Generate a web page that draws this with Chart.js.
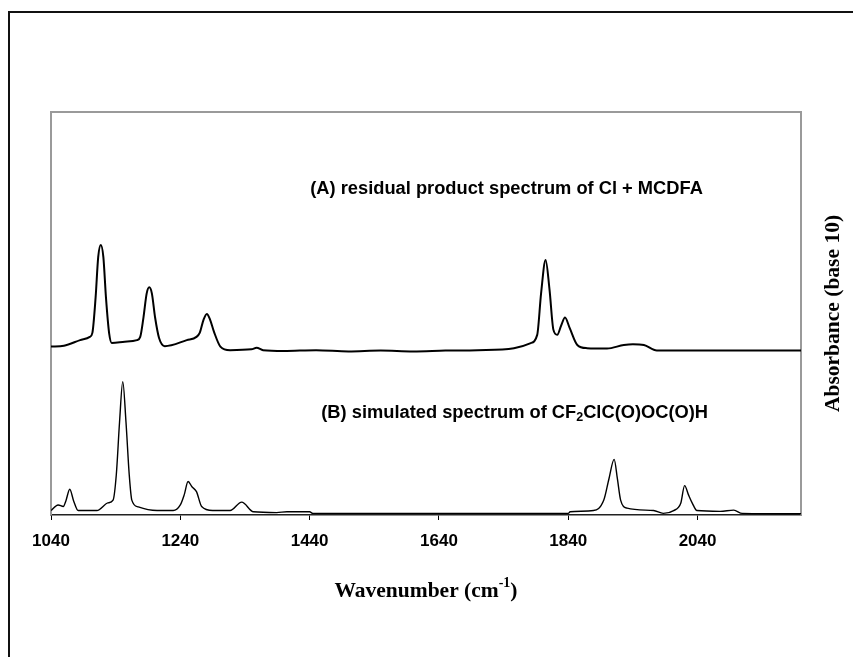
<!DOCTYPE html>
<html>
<head>
<meta charset="utf-8">
<script src="https://cdn.jsdelivr.net/npm/chart.js@4.4.1/dist/chart.umd.min.js"></script>
<style>
  body { margin: 0; background: #fff; }
  #frame { position: absolute; left: 8px; top: 11px; width: 900px; height: 700px;
           border-left: 2px solid #111; border-top: 2px solid #111; }
  #wrap { position: absolute; left: 0; top: 0; width: 853px; height: 657px; }
</style>
</head>
<body>
<div id="frame"></div>
<div id="wrap"><canvas id="chartId" width="853" height="657"></canvas></div>
<script>
// x axis ticks
var tickValues = [1040, 1240, 1440, 1640, 1840, 2040];

// (A) residual product spectrum (offset trace)
var wavenumberA = [1040, 1060, 1085, 1100, 1104, 1109, 1113, 1117, 1121, 1125, 1130, 1134, 1154, 1173,
    1178, 1183, 1188, 1192, 1196, 1201, 1207, 1216, 1250, 1265, 1270, 1276, 1281, 1286, 1292, 1302,
    1317, 1350, 1358, 1368, 1400, 1450, 1500, 1550, 1600, 1650, 1700, 1756, 1781, 1792, 1798, 1805,
    1811, 1817, 1823, 1829, 1835, 1842, 1854, 1869, 1900, 1926, 1940, 1957, 1977, 2100, 2200];
var absorbA = [0.418, 0.420, 0.434, 0.442, 0.452, 0.54, 0.64, 0.670, 0.64, 0.54, 0.45, 0.427, 0.430, 0.434,
    0.442, 0.49, 0.55, 0.565, 0.55, 0.49, 0.44, 0.419, 0.434, 0.442, 0.452, 0.485, 0.499, 0.485, 0.455, 0.418,
    0.409, 0.411, 0.415, 0.409, 0.407, 0.409, 0.406, 0.408, 0.406, 0.408, 0.409, 0.414, 0.426, 0.447, 0.55, 0.633,
    0.56, 0.46, 0.447, 0.47, 0.490, 0.465, 0.422, 0.414, 0.413, 0.422, 0.424, 0.422, 0.408, 0.408, 0.408];

// (B) simulated spectrum
var wavenumberB = [1040, 1051, 1059, 1063, 1069, 1075, 1082, 1111, 1128, 1136, 1141, 1146, 1151, 1156,
    1161, 1165, 1175, 1204, 1229, 1240, 1246, 1252, 1258, 1265, 1273, 1290, 1317, 1335, 1353, 1389,
    1405, 1440, 1445, 1840, 1843, 1879, 1895, 1903, 1911, 1916, 1921, 1931, 1972, 1987, 2003, 2014,
    2020, 2026, 2032, 2039, 2075, 2096, 2109, 2200];
var absorbB = [0.011, 0.025, 0.021, 0.035, 0.064, 0.035, 0.011, 0.011, 0.030, 0.037, 0.10, 0.23, 0.331, 0.23,
    0.10, 0.037, 0.020, 0.011, 0.011, 0.025, 0.05, 0.083, 0.07, 0.058, 0.021, 0.011, 0.011, 0.032, 0.008, 0.006,
    0.008, 0.008, 0.004, 0.004, 0.008, 0.011, 0.037, 0.09, 0.138, 0.09, 0.037, 0.017, 0.011, 0.004, 0.011, 0.029,
    0.073, 0.05, 0.029, 0.011, 0.009, 0.012, 0.004, 0.003];

// text labels inside the plot, placed in data units
var labelA = "(A) residual product spectrum of Cl + MCDFA";
var labelAPos = [1441, 0.809];
var labelBParts = ["(B) simulated spectrum of CF", "2", "ClC(O)OC(O)H"];
var labelBPos = [1458, 0.253];

function toPoints(xs, ys) {
    return xs.map(function(x, i) { return { x: x, y: ys[i] }; });
}

var sansBold = 'bold 18.3px "Liberation Sans", Arial, sans-serif';
var serifBold = 'bold 21.5px "Liberation Serif", "Times New Roman", serif';

var decorations = {
    id: 'decorations',
    beforeDatasetsDraw: function(chart) {
        var ctx = chart.ctx;
        var a = chart.chartArea;
        ctx.save();
        ctx.strokeStyle = '#9a9a9a';
        ctx.lineWidth = 2;
        ctx.beginPath();
        ctx.moveTo(a.left, a.bottom);
        ctx.lineTo(a.left, a.top);
        ctx.lineTo(a.right, a.top);
        ctx.lineTo(a.right, a.bottom);
        ctx.stroke();
        ctx.restore();
    },
    afterDraw: function(chart) {
        var ctx = chart.ctx;
        var a = chart.chartArea;
        var xs = chart.scales.x;
        var ys = chart.scales.y;
        ctx.save();
        ctx.fillStyle = '#000';
        ctx.textBaseline = 'middle';

        // label A
        ctx.font = sansBold;
        ctx.textAlign = 'left';
        ctx.fillText(labelA, xs.getPixelForValue(labelAPos[0]), ys.getPixelForValue(labelAPos[1]));

        // label B with subscript
        var bx = xs.getPixelForValue(labelBPos[0]);
        var by = ys.getPixelForValue(labelBPos[1]);
        ctx.fillText(labelBParts[0], bx, by);
        bx += ctx.measureText(labelBParts[0]).width;
        ctx.font = 'bold 12.5px "Liberation Sans", Arial, sans-serif';
        ctx.fillText(labelBParts[1], bx, by + 5);
        bx += ctx.measureText(labelBParts[1]).width;
        ctx.font = sansBold;
        ctx.fillText(labelBParts[2], bx, by);

        // x axis title with superscript
        var supFont = 'bold 14px "Liberation Serif", "Times New Roman", serif';
        ctx.font = serifBold;
        var p1 = "Wavenumber (cm", p3 = ")";
        var w1 = ctx.measureText(p1).width, w3 = ctx.measureText(p3).width;
        ctx.font = supFont;
        var w2 = ctx.measureText("-1").width;
        var tx = (a.left + a.right) / 2 - (w1 + w2 + w3) / 2;
        var ty = 591;
        ctx.font = serifBold;
        ctx.fillText(p1, tx, ty);
        ctx.font = supFont;
        ctx.fillText("-1", tx + w1, ty - 8);
        ctx.font = serifBold;
        ctx.fillText(p3, tx + w1 + w2, ty);

        // y axis title
        ctx.translate(833, (a.top + a.bottom) / 2);
        ctx.rotate(-Math.PI / 2);
        ctx.textAlign = 'center';
        ctx.fillText("Absorbance (base 10)", 0, 0);
        ctx.restore();
    }
};

var chart = new Chart(document.getElementById("chartId").getContext("2d"), {
    type: 'line',
    data: {
        datasets: [{
            data: toPoints(wavenumberA, absorbA),
            borderColor: '#000',
            borderWidth: 2,
            pointRadius: 0,
            cubicInterpolationMode: 'monotone'
        }, {
            data: toPoints(wavenumberB, absorbB),
            borderColor: '#000',
            borderWidth: 1.4,
            pointRadius: 0,
            cubicInterpolationMode: 'monotone'
        }]
    },
    options: {
        responsive: false,
        animation: false,
        layout: { padding: { left: 51, right: 52, top: 112, bottom: 0 } },
        plugins: { legend: { display: false }, tooltip: { enabled: false } },
        scales: {
            x: {
                type: 'linear',
                min: 1040,
                max: 2200,
                afterBuildTicks: function(scale) {
                    scale.ticks = tickValues.map(function(v) { return { value: v }; });
                },
                afterFit: function(scale) { scale.height = 142; },
                grid: { drawOnChartArea: false, tickLength: 5, color: '#000', lineWidth: 1 },
                border: { color: '#222', width: 1.5 },
                ticks: {
                    color: '#000',
                    padding: 11,
                    maxRotation: 0,
                    callback: function(value) { return String(value); },
                    font: { family: '"Liberation Sans", Arial, sans-serif', size: 17, weight: 'bold' }
                }
            },
            y: {
                display: false,
                min: 0,
                max: 1
            }
        }
    },
    plugins: [decorations]
});
</script>
</body>
</html>
